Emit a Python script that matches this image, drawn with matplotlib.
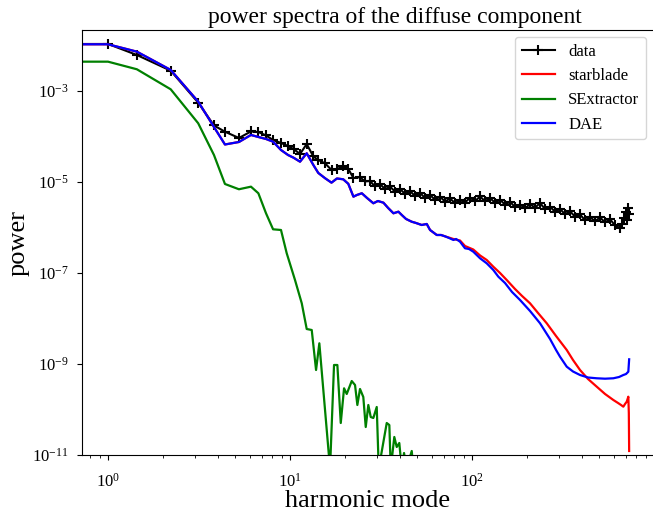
import numpy as np
import matplotlib
matplotlib.use("Agg")
import matplotlib.pyplot as plt

plt.rcParams['font.family'] = ['Liberation Serif', 'DejaVu Serif']
plt.rcParams['mathtext.fontset'] = 'stix'

# ---- data (harmonic mode, log10 power) ----
data_l = [0, 1.0, 1.44, 2.21, 3.13, 3.82, 4.39, 5.24, 6.1, 6.7, 7.38, 8.07, 8.92, 9.75, 10.45,
          11.35, 12.35, 13.43, 14.3, 15.6, 16.9, 18.1, 19.6, 20.9, 22.3,
          24.2, 25.8, 27.5, 29.3, 31.2, 33.3, 35.4, 37.8, 40.2, 42.9,
          45.6, 48.6, 51.8, 55.2, 58.8, 62.6, 66.7, 71.1, 75.7, 80.7,
          85.9, 91.5, 97.5, 103.9, 110.7, 117.9, 125.6, 133.8, 142.5, 151.8,
          161.8, 172.3, 183.5, 195.6, 208.3, 221.9, 236.4, 251.8, 268.3, 285.8,
          304.4, 324.3, 345.5, 368.1, 392.1, 417.7, 445.0, 474.1, 505.0, 538.0,
          573.2, 610.6, 650.5, 667.2, 684.3, 701.8, 710.7, 719.7, 729.0]
data_exp = [-1.967, -1.967, -2.209, -2.554, -3.257, -3.758, -3.895, -4.033, -3.890, -3.901, -3.978,
            -4.077, -4.143, -4.209, -4.275, -4.385, -4.165, -4.440, -4.516, -4.593, -4.736,
            -4.714, -4.659, -4.714, -4.912,
            -4.895, -4.987, -4.978, -5.099, -5.044, -5.158, -5.099, -5.215, -5.154, -5.264,
            -5.198, -5.308, -5.242, -5.352, -5.286, -5.391, -5.323, -5.431, -5.363, -5.466,
            -5.396, -5.453, -5.345, -5.420, -5.319, -5.424, -5.352, -5.459, -5.391, -5.497,
            -5.435, -5.554, -5.495, -5.578, -5.486, -5.565, -5.462, -5.596, -5.543, -5.655,
            -5.593, -5.708, -5.644, -5.763, -5.714, -5.842, -5.771, -5.864, -5.780, -5.888,
            -5.818, -5.956, -6.011, -5.923, -5.791, -5.659, -5.835, -5.571, -5.703]

# starblade and DAE coincide at low harmonic modes
model_l = [0, 1.0, 1.44, 2.21, 3.13, 3.82, 4.39, 5.24, 6.1, 6.7, 7.38, 8.07, 8.92, 9.75, 10.45,
           11.35, 12.35, 13.43, 14.3, 15.6, 16.9, 18.1, 19.6, 20.9, 22.3, 23.3, 24.8, 26.5,
           28.7, 30.4, 32.6, 34.6, 37.0, 39.4, 41.1, 43.4, 46.6, 49.2, 52.9, 56.4, 58.8,
           64.0, 67.6, 71.1]
model_exp = [-1.974, -1.974, -2.136, -2.538, -3.235, -3.791, -4.176, -4.121, -3.967, -4.011,
             -4.055, -4.114, -4.297, -4.407, -4.466, -4.554, -4.369, -4.626, -4.802, -4.919,
             -5.015, -4.923, -4.941, -5.04, -5.323, -5.286, -5.248, -5.352, -5.468, -5.418,
             -5.455, -5.571, -5.688, -5.653, -5.725, -5.813, -5.873, -5.901, -5.945, -5.923,
             -6.055, -6.165, -6.165, -6.195]

starblade_l_tail = [79.0, 85.9, 91.5, 101.6, 110.7, 120.4, 130.9, 142.5, 155.1, 172.3,
                    188.3, 208.3, 230.5, 257.3, 289.5, 331.4, 358.8, 392.1, 433.9, 484.5,
                    538.0, 597.6, 634.2, 658.7, 678.2, 692.9, 707.9, 722.5, 727.0, 730.0]
starblade_exp_tail = [-6.253, -6.286, -6.407, -6.484, -6.615, -6.714, -6.862, -7.000, -7.154, -7.352,
                      -7.505, -7.666, -7.879, -8.105, -8.385, -8.692, -8.912, -9.132, -9.330, -9.499,
                      -9.659, -9.791, -9.857, -9.901, -9.938, -9.879, -9.829, -9.719, -10.077, -10.912]

dae_l_tail = [74.8, 79.0, 81.7, 85.9, 91.5, 96.3, 101.6, 110.7, 120.4, 130.9,
              139.5, 151.8, 165.9, 183.5, 208.3, 236.4, 268.3, 289.5, 304.4, 331.4,
              358.8, 392.1, 433.9, 484.5, 538.0, 597.6, 642.3, 678.2, 701.8, 722.5, 730.0]
dae_exp_tail = [-6.231, -6.275, -6.253, -6.312, -6.457, -6.473, -6.532, -6.677, -6.787, -6.934,
                -7.081, -7.220, -7.418, -7.593, -7.835, -8.105, -8.451, -8.692, -8.840, -9.059,
                -9.165, -9.242, -9.297, -9.314, -9.323, -9.314, -9.286, -9.242, -9.220, -9.169, -8.897]

sex_l = [0, 1.0, 1.44, 2.21, 3.13, 3.82, 4.39, 5.24, 6.1, 6.7, 7.38, 8.07, 8.92, 9.59, 10.65,
         11.60, 12.35, 13.16, 13.90, 14.49, 16.59, 17.45, 18.20, 19.00, 19.81, 20.49, 21.83,
         22.76, 23.44, 24.24, 25.27, 26.06, 26.93, 27.76, 28.69, 29.95, 30.72, 33.99, 35.13,
         35.76, 37.41, 38.57, 39.85, 41.09, 42.31, 43.67, 46.64, 47.60, 50.0]
sex_exp = [-2.356, -2.356, -2.523, -2.963, -3.710, -4.407, -5.044, -5.160, -5.103, -5.248,
           -5.688, -6.040, -6.055, -6.567, -7.154, -7.666, -8.231, -8.253, -9.132, -8.545,
           -11.3, -9.022, -9.022, -10.297, -9.534, -9.659, -9.374, -9.462, -9.901, -9.549,
           -9.725, -10.385, -9.901, -10.165, -10.187, -9.945, -11.3, -10.297, -10.341, -11.3,
           -10.604, -10.824, -10.736, -11.3, -10.956, -11.3, -10.912, -11.3, -12.0]

labels = ["data", "starblade", "SExtractor", "DAE"]

# ---- build series ----
data_p = 10.0 ** np.array(data_exp)
sb_l = np.array(model_l + starblade_l_tail)
sb_p = 10.0 ** np.array(model_exp + starblade_exp_tail)
dae_l = np.array(model_l + dae_l_tail)
dae_p = 10.0 ** np.array(model_exp + dae_exp_tail)
sex_p = 10.0 ** np.array(sex_exp)

fig = plt.figure(figsize=(6.53, 5.13), dpi=100)
x_lo, x_hi = -0.143, 2.997          # log10 limits
px_per_dec = 182.0
ax_w = (x_hi - x_lo) * px_per_dec
ax = fig.add_axes([82 / 653, 58 / 513, ax_w / 653, 425 / 513])

ax.loglog(data_l, data_p, color='k', marker='+', ms=7, mew=1.5, lw=1.5, label=labels[0])
ax.loglog(sb_l, sb_p, color='r', lw=1.6, label=labels[1])
ax.loglog(sex_l, sex_p, color='g', lw=1.6, label=labels[2])
ax.loglog(dae_l, dae_p, color='b', lw=1.6, label=labels[3])

ax.set_xlim(10 ** x_lo, 10 ** x_hi)
ax.set_ylim(1e-11, 10 ** -1.66)
ax.spines['right'].set_visible(False)

ax.set_title("power spectra of the diffuse component", fontsize=17, pad=5,
             x=(395 - 82) / ax_w)
ax.set_xlabel("harmonic mode", fontsize=19, labelpad=0)
ax.set_ylabel("power", fontsize=19, labelpad=2)
ax.tick_params(axis='x', labelsize=12, pad=9)
ax.tick_params(axis='y', labelsize=12, pad=6)

ax.legend(loc='upper right', fontsize=12, framealpha=0.8,
          bbox_to_anchor=(646 / 653, 1 - 37 / 513), bbox_transform=fig.transFigure,
          borderaxespad=0)

fig.savefig("out.png", dpi=100)
